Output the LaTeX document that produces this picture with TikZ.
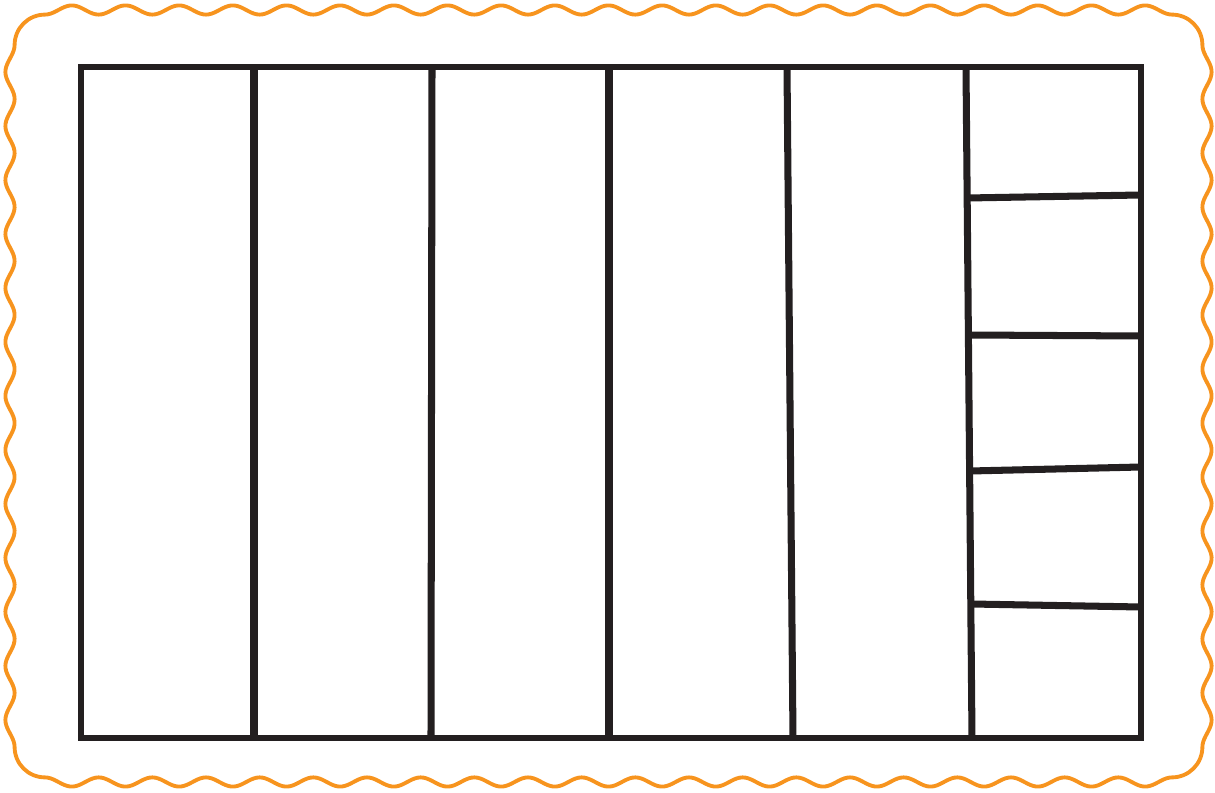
\documentclass[tikz,border=0pt]{standalone}
\usepackage{xcolor}
\definecolor{frameorange}{RGB}{247,148,30}
\definecolor{ink}{RGB}{35,31,32}
\tikzset{
  wavyedge/.style={frameorange, line width=2.2pt, line join=round},
  outline/.style={ink, line width=3.4pt},
  divider/.style={ink, line width=4pt},
}
\begin{document}
\begin{tikzpicture}[x=0.02cm,y=0.02cm]
  \useasboundingbox (0,0) rectangle (1215,792);
  %% Wavy stamp border
  \draw[wavyedge] (45,777.4)
    -- plot[domain=0:1127, samples=400] ({45+\x}, {782-4.6*cos(6.70807*\x)})
    arc[start angle=90, end angle=0, radius=30.4]
    -- plot[domain=0:702, samples=260] ({1207-4.6*cos(6.66667*\x)}, {747-\x})
    arc[start angle=0, end angle=-90, radius=30.4]
    -- plot[domain=0:1127, samples=400] ({1172-\x}, {10+4.6*cos(6.70807*\x)})
    arc[start angle=270, end angle=180, radius=30.4]
    -- plot[domain=0:702, samples=260] ({10+4.6*cos(6.66667*\x)}, {45+\x})
    arc[start angle=180, end angle=90, radius=30.4]
    -- cycle;
  %% Whole bar
  \draw[outline] (81,725) rectangle (1141,54);
  %% Five strips
  \foreach \xt/\xb in {254/254, 432/431, 609/609, 787/793, 966/972}
    \draw[divider] (\xt,725) -- (\xb,54);
  %% Last column split in five
  \foreach \xl/\yl/\yr in {967/594/597, 968/457/456, 970/321/325, 971/188/185}
    \draw[divider] (\xl,\yl) -- (1141,\yr);
\end{tikzpicture}
\end{document}
